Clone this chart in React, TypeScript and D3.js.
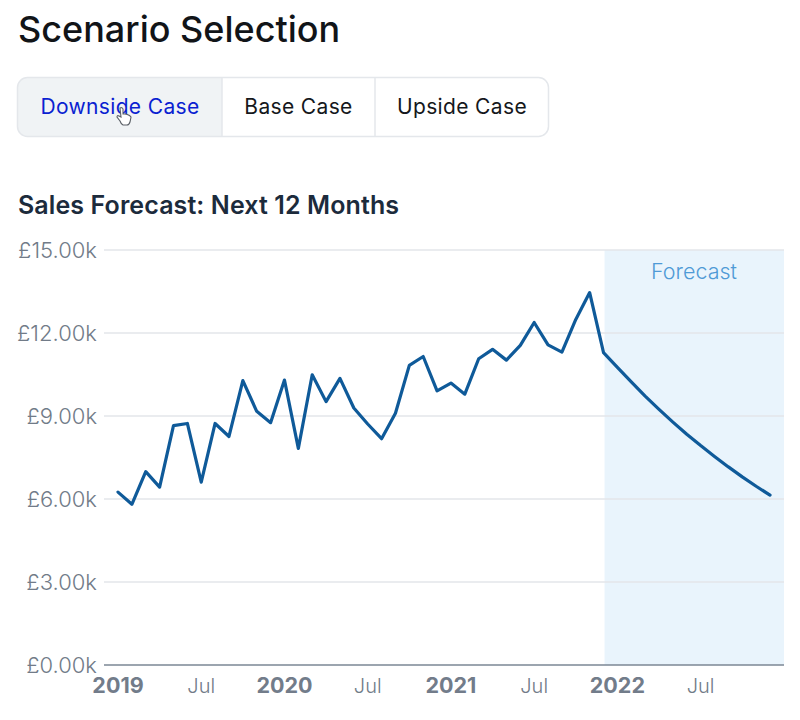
import React from "react";
import * as d3 from "d3";

const history = [6.25,5.81,6.99,6.43,8.65,8.73,6.61,8.73,8.26,10.28,9.17,8.76,10.30,7.83,10.49,9.52,10.36,9.29,8.71,8.18,9.10,10.83,11.15,9.91,10.19,9.79,11.07,11.41,11.02,11.55,12.38,11.57,11.31,12.49,13.46,11.29];
const forecast = [10.76,10.23,9.72,9.24,8.78,8.34,7.93,7.54,7.16,6.8,6.46,6.14];
const yTicks = [0,3,6,9,12,15];
const xTicks = [
  { i: 0, label: "2019", major: true },
  { i: 6, label: "Jul", major: false },
  { i: 12, label: "2020", major: true },
  { i: 18, label: "Jul", major: false },
  { i: 24, label: "2021", major: true },
  { i: 30, label: "Jul", major: false },
  { i: 36, label: "2022", major: true },
  { i: 42, label: "Jul", major: false },
];
const scenarios = ["Downside Case", "Base Case", "Upside Case"];
const forecastLabel = "Forecast";
const forecastStartIndex = 35;

const FONT = "Inter, sans-serif";

export default function App() {
  const values = [...history, ...forecast];
  const x = d3.scaleLinear().domain([0, 47]).range([118, 770]);
  const y = d3.scaleLinear().domain([0, 15]).range([665, 250]);
  const line = d3.line<number>().x((_, i) => x(i)).y((d) => y(d));
  const bandX = x(forecastStartIndex) + 1;
  const fmt = (v: number) => `£${v.toFixed(2)}k`;
  const btnX = [17, 222, 375, 549];
  const btnText = [120, 298.5, 462];

  return (
    <svg width={800} height={720} style={{ position: "absolute", left: 0, top: 0, fontFamily: FONT }}>
      <rect width={800} height={720} fill="#fff" />
      <text x={18} y={42} fontSize={36} fontWeight={500} fill="#111418">Scenario Selection</text>

      <path d={`M${btnX[1]},77.5 H27.5 a10,10 0 0 0 -10,10 V126 a10,10 0 0 0 10,10 H${btnX[1]} Z`} fill="#f0f3f5" />
      <rect x={17.5} y={77.5} width={531} height={59} rx={10} fill="none" stroke="#e4e7eb" strokeWidth={1.5} />
      <line x1={btnX[1]} x2={btnX[1]} y1={78} y2={136} stroke="#e4e7eb" strokeWidth={1.5} />
      <line x1={btnX[2]} x2={btnX[2]} y1={78} y2={136} stroke="#e4e7eb" strokeWidth={1.5} />
      {scenarios.map((s, i) => (
        <text key={s} x={btnText[i]} y={114} textAnchor="middle" fontSize={21} letterSpacing={0.35}
          fill={i === 0 ? "#0b1fd1" : "#15181c"}>{s}</text>
      ))}
      <path d="M120,108 q2,-1 3,1 v5 l2,0 q5,1 6,3 l-1,5 q-1,3 -3,3 h-4 q-2,-1 -3,-4 l-3,-4 q0,-2 2,-1 l2,1 z"
        fill="#fff" stroke="#5a5f66" strokeWidth={1.1} />

      <text x={18} y={214} fontSize={25} fontWeight={600} letterSpacing={0.1} fill="#1c2b3c">Sales Forecast: Next 12 Months</text>

      <rect x={bandX} y={250} width={784 - bandX} height={415} fill="#e9f4fc" />
      {yTicks.filter((t) => t > 0).map((t) => (
        <line key={t} x1={104} x2={784} y1={y(t)} y2={y(t)} stroke="#e3e6ea" strokeWidth={1.6} />
      ))}
      <line x1={104} x2={784} y1={y(0)} y2={y(0)} stroke="#7b8794" strokeWidth={1.6} />
      {yTicks.map((t) => (
        <text key={t} x={97} y={y(t) + 8} textAnchor="end" fontSize={22} fontWeight={300} fill="#717b88">{fmt(t)}</text>
      ))}
      {xTicks.map((t) => (
        <text key={t.i} x={x(t.i)} y={693} textAnchor="middle"
          fontSize={t.major ? 21.5 : 20} fontWeight={t.major ? 700 : 300} fill={t.major ? "#727c8a" : "#717b88"}>{t.label}</text>
      ))}
      <text x={694} y={279} textAnchor="middle" fontSize={21.5} fontWeight={300} fill="#4f9ad6">{forecastLabel}</text>
      <path d={line(values) ?? ""} fill="none" stroke="#0f5a99" strokeWidth={3.2} strokeLinejoin="round" strokeLinecap="round" />
    </svg>
  );
}
